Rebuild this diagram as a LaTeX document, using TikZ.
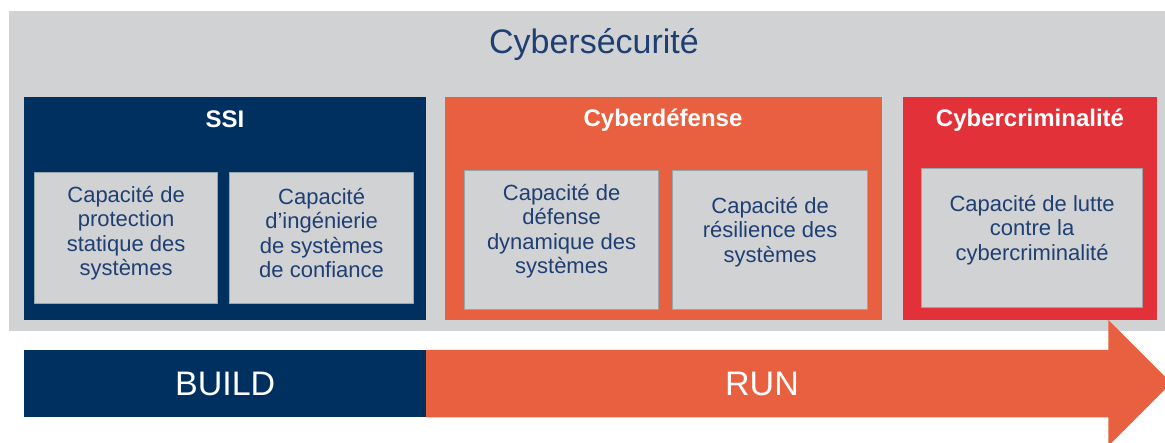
\documentclass[tikz,border=0pt]{standalone}
\usepackage{fontspec}
\setmainfont{Liberation Sans}
\usepackage{tikz}
\definecolor{bleunuit}{HTML}{003060}
\definecolor{corail}{HTML}{E8603F}
\definecolor{rouge}{HTML}{E3313A}
\definecolor{grisfond}{HTML}{D1D2D4}
\definecolor{bleutexte}{HTML}{1F3F73}
\definecolor{grisbord}{HTML}{95A7AC}
\tikzstyle{domaine}=[rectangle, anchor=north west, inner sep=0pt, minimum height=223pt]
\tikzstyle{capacite}=[rectangle, anchor=north west, draw=grisbord, fill=grisfond, line width=1.2pt, inner sep=0pt]
\tikzstyle{texte}=[text=bleutexte, align=center, inner sep=0pt, font=\fontsize{22}{24.5}\selectfont]
\tikzstyle{titre}=[text=white, anchor=base, inner sep=0pt, font=\bfseries\fontsize{24}{28}\selectfont]
\tikzstyle{phase}=[text=white, inner sep=0pt, font=\fontsize{34}{38}\selectfont]

\begin{document}
\begin{tikzpicture}[x=1pt, y=-1pt]
			\useasboundingbox (0,0) rectangle (1165,443);
			% fond gris et titre
			\node[domaine, fill=grisfond, minimum width=1160pt, minimum height=320pt] (fond) at (9,11) {};
			\node[anchor=base, inner sep=0pt, text=bleutexte, font=\fontsize{34}{38}\selectfont] (cyber) at (594,54) {Cybersécurité};
			% SSI
			\node[domaine, fill=bleunuit, minimum width=402pt] (ssi) at (24,97) {};
			\node[titre] (tssi) at (225,128) {SSI};
			\node[capacite, minimum width=183pt, minimum height=131pt] (c1) at (34,172) {};
			\node[capacite, minimum width=184pt, minimum height=131pt] (c2) at (229,172) {};
			\node[texte] (t1) at (c1.center |- 0,233) {Capacité de\\protection\\statique des\\systèmes};
			\node[texte] (t2) at (c2.center |- 0,233) {Capacité\\d’ingénierie\\de systèmes\\de confiance};
			% Cyberdefense
			\node[domaine, fill=corail, minimum width=437pt] (cyd) at (445,97) {};
			\node[titre] (tcyd) at (663,127) {Cyberdéfense};
			\node[capacite, minimum width=194pt, minimum height=139pt] (c3) at (464,170) {};
			\node[capacite, minimum width=195pt, minimum height=139pt] (c4) at (672,170) {};
			\node[texte] (t3) at (c3.center |- 0,231) {Capacité de\\défense\\dynamique des\\systèmes};
			\node[texte] (t4) at (c4.center |- 0,232) {Capacité de\\résilience des\\systèmes};
			% Cybercriminalite
			\node[domaine, fill=rouge, minimum width=254pt] (cyc) at (903,97) {};
			\node[titre] (tcyc) at (1030,127) {Cybercriminalité};
			\node[capacite, minimum width=221pt, minimum height=139pt] (c5) at (921,168) {};
			\node[texte] (t5) at (c5.center |- 0,230) {Capacité de lutte\\contre la\\cybercriminalité};
			% fleche build / run
			\node[rectangle, anchor=north west, fill=bleunuit, inner sep=0pt, minimum width=402pt, minimum height=67pt] (build) at (24,350) {};
			\node[rectangle, anchor=north west, inner sep=0pt, minimum width=682pt, minimum height=67pt] (run) at (426,350) {};
			\fill[corail] (run.north west) -- (run.north east) -- ++(0,-30) -- ++(63,63) -- ++(-63,63) -- (run.south east) -- (run.south west) -- cycle;
			\node[phase] (tbuild) at (build.center) {BUILD};
			\node[phase] (trun) at (762,383.5) {RUN};
		\end{tikzpicture}
\end{document}
